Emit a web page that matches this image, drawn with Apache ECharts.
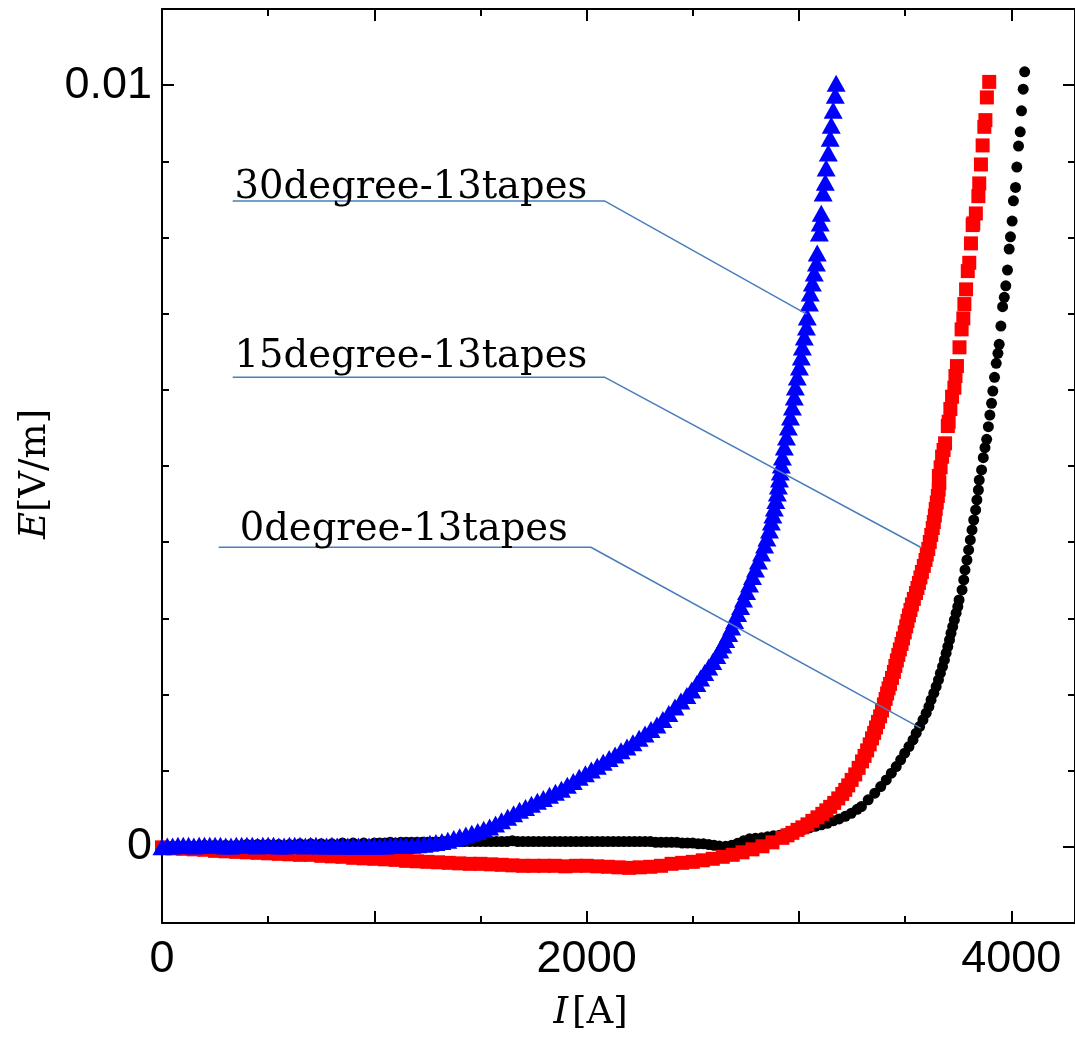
<!DOCTYPE html>
<html>
<head>
<meta charset="utf-8">
<script src="https://cdn.jsdelivr.net/npm/echarts@6/dist/echarts.min.js"></script>
<style>
  html, body { margin: 0; padding: 0; background: #fff; }
  #chart { width: 1075px; height: 1042px; }
</style>
</head>
<body>
<div id="chart"></div>
<script>
// E-I characteristics of 13-tape conductors at three winding angles.
// Current I in A, electric field E in V/m.

const deg0I = [
  0, 50, 100, 150, 200, 250, 300, 350, 400, 450, 500, 550, 600, 650, 700, 750, 800, 850, 900, 950,
  1000, 1025, 1050, 1075, 1100, 1125, 1150, 1175, 1200, 1225, 1250, 1275, 1300, 1325, 1350, 1375, 1400, 1425, 1450, 1475,
  1500, 1525, 1550, 1575, 1600, 1625, 1650, 1675, 1700, 1725, 1750, 1775, 1800, 1825, 1850, 1875, 1900, 1925, 1950, 1975,
  2000, 2025, 2050, 2075, 2100, 2125, 2150, 2175, 2200, 2225, 2250, 2275, 2300, 2325, 2350, 2375, 2400, 2425, 2450, 2475,
  2500, 2525, 2550, 2575, 2600, 2625,
  2655, 2683, 2711, 2739, 2767, 2795, 2824, 2852, 2880, 2908, 2936, 2964, 2992, 3021, 3049, 3077, 3105, 3133, 3161, 3189, 3218, 3246, 3274,
  3294, 3326, 3357, 3385, 3411, 3435, 3458, 3479, 3498, 3518, 3537, 3552, 3568, 3584, 3599, 3612, 3622, 3635, 3646, 3657,
  3666, 3676, 3685, 3693, 3701, 3709, 3716, 3724, 3732, 3740, 3748, 3754, 3768, 3776, 3782, 3791, 3799, 3807, 3815, 3823,
  3832, 3838, 3845, 3849,
  3860, 3868, 3876, 3884, 3892, 3899, 3907, 3913, 3921, 3929, 3937, 3943, 3951, 3959, 3967, 3974, 3982, 3990, 3996, 4004,
  4010, 4020, 4026, 4034, 4042, 4048, 4056, 4063
];
const deg0E = [
  0, 0.00001, 0.00001, 0.00001, 0.00002, 0.00002, 0.00002, 0.00002, 0.00003, 0.00003, 0.00003, 0.00003, 0.00003, 0.00004, 0.00004, 0.00004, 0.00004, 0.00005, 0.00005, 0.00005,
  0.00005, 0.00005, 0.00005, 0.00006, 0.00005, 0.00006, 0.00006, 0.00006, 0.00006, 0.00006, 0.00006, 0.00006, 0.00006, 0.00007, 0.00006, 0.00007, 0.00007, 0.00007, 0.00007, 0.00007,
  0.00007, 0.00007, 0.00007, 0.00007, 0.00007, 0.00007, 0.00008, 0.00007, 0.00007, 0.00007, 0.00007, 0.00007, 0.00007, 0.00007, 0.00007, 0.00007, 0.00007, 0.00007, 0.00007, 0.00007,
  0.00007, 0.00007, 0.00007, 0.00007, 0.00007, 0.00007, 0.00007, 0.00007, 0.00007, 0.00007, 0.00007, 0.00007, 0.00007, 0.00006, 0.00006, 0.00006, 0.00006, 0.00006, 0.00005, 0.00005,
  0.00005, 0.00004, 0.00004, 0.00003, 0.00002, 0.00001,
  0.000007, 0.00002, 0.000046, 0.000079, 0.000105, 0.000112, 0.000118, 0.000131, 0.000144, 0.000151, 0.000171, 0.00019, 0.00021, 0.00023, 0.000249, 0.000269, 0.000289, 0.000308, 0.000341, 0.000367, 0.0004, 0.00044, 0.000492,
  0.000529, 0.000617, 0.000705, 0.000791, 0.000879, 0.000967, 0.001054, 0.001142, 0.00123, 0.001316, 0.001404, 0.001492, 0.001579, 0.001667, 0.001755, 0.001841, 0.001929, 0.002017, 0.002104, 0.002192,
  0.00228, 0.002366, 0.002454, 0.002542, 0.002629, 0.002717, 0.002804, 0.002891, 0.002979, 0.003067, 0.003154, 0.003241, 0.003373, 0.003504, 0.003635, 0.003766, 0.003898, 0.004029, 0.00416, 0.004291,
  0.004423, 0.004554, 0.004685, 0.004816,
  0.004948, 0.005109, 0.00524, 0.00535, 0.005516, 0.005669, 0.005823, 0.005984, 0.006164, 0.006348, 0.006479, 0.006597, 0.006837, 0.007091, 0.007214, 0.007366, 0.007572, 0.007848, 0.008009, 0.008215,
  0.008482, 0.008657, 0.008924, 0.0092, 0.009387, 0.009663, 0.009948, 0.010175
];

const deg15I = [
  0, 50, 100, 150, 200, 250, 300, 350, 400, 450, 500, 550, 600, 650, 700, 750, 800, 850, 900, 950,
  1000, 1050, 1100, 1150, 1200, 1250, 1300, 1350, 1400, 1450, 1500, 1550, 1600, 1650, 1700, 1750, 1800, 1850, 1900, 1950,
  2000, 2050, 2100, 2150, 2200, 2250, 2300, 2350, 2400, 2450, 2500,
  2547, 2594, 2641, 2688, 2734, 2781, 2828, 2875,
  2922, 2946, 2969, 2993, 3016, 3040, 3063, 3087, 3110, 3129,
  3147, 3166, 3185, 3204, 3218, 3232, 3248, 3265, 3281, 3297,
  3309, 3321, 3333, 3344, 3354, 3363, 3372, 3382, 3391, 3400,
  3408, 3415, 3422, 3429, 3438, 3447, 3454, 3461, 3468, 3475,
  3483, 3490, 3498, 3505, 3511, 3518, 3525, 3532, 3541, 3551,
  3558, 3565, 3572, 3579, 3588, 3596, 3602, 3609, 3616, 3623,
  3630, 3635, 3640, 3644, 3649, 3654, 3658, 3661,
  3659, 3667, 3674, 3681, 3688, 3701, 3705, 3713, 3721, 3732, 3737, 3744, 3756, 3766, 3774, 3779, 3787, 3795, 3802, 3810,
  3818, 3821, 3833, 3845, 3849, 3857, 3865, 3873, 3878, 3885, 3896
];
const deg15E = [
  -0.000007, -0.00002, -0.000026, -0.000033, -0.000039, -0.000053, -0.000059, -0.000066, -0.000072, -0.000079,
  -0.000085, -0.000092, -0.000098, -0.000105, -0.000105, -0.000118, -0.000125, -0.000131, -0.000144, -0.000151,
  -0.000157, -0.000164, -0.000171, -0.000184, -0.00019, -0.000197, -0.000203, -0.00021, -0.000217, -0.000223,
  -0.000223, -0.00023, -0.000236, -0.000243, -0.000249, -0.000249, -0.000249, -0.000249, -0.000256, -0.000249,
  -0.000249, -0.000256, -0.000262, -0.000269, -0.000276, -0.000269, -0.000262, -0.000249, -0.000223, -0.00021,
  -0.000197,
  -0.000177, -0.000157, -0.000131, -0.000105, -0.000072, -0.000033, 0.000007, 0.000059,
  0.000118, 0.000151, 0.000184, 0.000223, 0.000256, 0.000295, 0.000341, 0.000387, 0.000433, 0.000479,
  0.000525, 0.000577, 0.000636, 0.000695, 0.000748, 0.000807, 0.000879, 0.000951, 0.001037, 0.001122,
  0.001194, 0.001266, 0.001345, 0.001424, 0.001496, 0.001568, 0.00164, 0.001713, 0.001791, 0.00187,
  0.001942, 0.002014, 0.00208, 0.002139, 0.002218, 0.002297, 0.002375, 0.002447, 0.00252, 0.002592,
  0.002664, 0.002736, 0.002815, 0.002894, 0.002966, 0.003038, 0.00311, 0.003182, 0.003255, 0.003333,
  0.003399, 0.003465, 0.003537, 0.003609, 0.003688, 0.003766, 0.003839, 0.003911, 0.004003, 0.004095,
  0.004186, 0.004265, 0.00435, 0.004436, 0.004521, 0.004606, 0.004691, 0.004777,
  0.004869, 0.004983, 0.005122, 0.00521, 0.005298, 0.005525, 0.005581, 0.005748, 0.00591, 0.006028, 0.006181, 0.006312, 0.006558, 0.006794, 0.006938, 0.007126, 0.007319, 0.007559, 0.007668, 0.007923,
  0.008163, 0.008185, 0.008316, 0.008543, 0.00871, 0.008959, 0.009209, 0.009453, 0.009541, 0.009839, 0.010043
];

const deg30I = [
  0, 25, 50, 75, 100, 125, 150, 175, 200, 225, 250, 275, 300, 325, 350, 375, 400, 425, 450, 475,
  500, 525, 550, 575, 600, 625, 650, 675, 700, 725, 750, 775, 800, 825, 850, 875, 900, 925, 950, 975,
  1000, 1025, 1050, 1075, 1100, 1125,
  1149, 1177, 1205, 1234, 1262, 1290, 1318, 1346, 1374, 1402,
  1431, 1459, 1487, 1515, 1543, 1571, 1599, 1628, 1656, 1684,
  1712, 1740, 1768, 1796, 1825,
  1853, 1881, 1909, 1937, 1965, 1994, 2022, 2050, 2078, 2106,
  2134, 2162, 2190, 2218, 2247, 2275, 2303, 2331,
  2359, 2387, 2416, 2444, 2472, 2495, 2519, 2537, 2556, 2575,
  2594, 2613, 2627, 2641, 2655, 2669, 2683, 2697, 2711, 2725,
  2739, 2753, 2767, 2781, 2795, 2809, 2824, 2838, 2849, 2861,
  2870, 2877, 2884, 2891, 2898, 2903, 2908, 2912, 2917,
  2922, 2931, 2941, 2950, 2960, 2969, 2978, 2983, 2992, 3002, 3011, 3016, 3025, 3035, 3039, 3049, 3053, 3063, 3072, 3082,
  3086, 3096, 3100, 3105, 3114, 3124, 3128, 3138, 3147, 3152, 3161, 3171, 3175
];
const deg30E = [
  0, 0.00001, 0.00001, 0.00002, 0.00002, 0.00002, 0.00001, 0.00002, 0.00002, 0.00002,
  0.00002, 0.00002, 0.00001, 0.00001, 0.00002, 0.00002, 0.00002, 0.00002, 0.00001, 0.00002,
  0.00002, 0.00002, 0.00001, 0.00001, 0.00002, 0.00002, 0.00002, 0.00001, 0.00002, 0.00002,
  0.00001, 0.00001, 0.00002, 0.00001, 0.00001, 0.00001, 0.00001, 0.00001, 0.00001, 0.00001,
  0.00001, 0.00001, 0.00001, 0.00002, 0.00002, 0.00002,
  0.000016, 0.000021, 0.000026, 0.000035, 0.000046, 0.000058, 0.000071, 0.000087, 0.000108, 0.000131,
  0.000155, 0.000178, 0.000202, 0.000231, 0.000262, 0.000299, 0.000341, 0.000387, 0.000433, 0.000479,
  0.000518, 0.000558, 0.000597, 0.000636, 0.000676,
  0.000715, 0.000757, 0.000807, 0.000857, 0.000912, 0.000961, 0.00101, 0.001059, 0.001109, 0.001161,
  0.001207, 0.00126, 0.001312, 0.001365, 0.001424, 0.001483, 0.001542, 0.001601,
  0.001673, 0.001752, 0.001837, 0.001916, 0.001988, 0.00206, 0.002146, 0.002218, 0.00229, 0.002362,
  0.002434, 0.002513, 0.002585, 0.002651, 0.002723, 0.002802, 0.002887, 0.002972, 0.003064, 0.003156,
  0.003254, 0.003353, 0.003451, 0.00355, 0.003648, 0.003753, 0.003858, 0.003963, 0.004055, 0.00416,
  0.004265, 0.004357, 0.004449, 0.004547, 0.004646, 0.004738, 0.004829, 0.004921, 0.005013,
  0.005118, 0.005249, 0.005381, 0.005512, 0.005643, 0.005774, 0.005906, 0.006037, 0.006168, 0.006299, 0.00643, 0.006562, 0.006693, 0.006824, 0.006955, 0.007139, 0.00727, 0.007402, 0.007533, 0.007664,
  0.007795, 0.008058, 0.008189, 0.00832, 0.008583, 0.008727, 0.008911, 0.009108, 0.009304, 0.009475, 0.009672, 0.009869, 0.010026
];

// Series names and their callout text anchors / leader polylines (data coordinates)
const seriesNames = ['0degree-13tapes', '15degree-13tapes', '30degree-13tapes'];
const calloutTextI = [366, 342, 342];
const calloutTextE = [0.004154, 0.00643, 0.008655];
const leader0I = [267, 2020, 3573];
const leader0E = [0.003933, 0.003933, 0.001558];
const leader15I = [333, 2086, 3573];
const leader15E = [0.006164, 0.006164, 0.003933];
const leader30I = [333, 2086, 3036];
const leader30E = [0.008478, 0.008478, 0.006995];

// Axis ticks and labels
const xMajorTicks = [0, 1000, 2000, 3000, 4000];
const xTickLabels = [0, 2000, 4000];
const yMajorTicks = [0, 0.01];
const yTickLabels = [0, 0.01];

const pairs = (xs, ys) => xs.map((x, i) => [x, ys[i]]);

const X_MIN = 0, X_MAX = 4300, Y_MIN = -0.001, Y_MAX = 0.011;
const tickFont = 'Liberation Sans, Arial, sans-serif';
const serifFont = 'DejaVu Serif, serif';

function xAxisDef(pos, major, withLabels) {
  return {
    type: 'value', position: pos, min: X_MIN, max: X_MAX,
    interval: major ? 1000 : 500,
    axisLine: { show: major, onZero: false, lineStyle: { color: '#000', width: 2 } },
    axisTick: major
      ? { show: true, inside: true, length: 12, customValues: xMajorTicks, lineStyle: { color: '#000', width: 2 } }
      : { show: true, inside: true, length: 7, lineStyle: { color: '#000', width: 2 } },
    axisLabel: withLabels
      ? { show: true, customValues: xTickLabels, margin: 14, color: '#000', fontSize: 45, fontFamily: tickFont,
          formatter: v => String(Math.round(v)) }
      : { show: false },
    splitLine: { show: false }
  };
}
function yAxisDef(pos, major, withLabels) {
  return {
    type: 'value', position: pos, min: Y_MIN, max: Y_MAX,
    interval: 0.001,
    axisLine: { show: major, onZero: false, lineStyle: { color: '#000', width: 2 } },
    axisTick: major
      ? { show: true, inside: true, length: 12, customValues: yMajorTicks, lineStyle: { color: '#000', width: 2 } }
      : { show: true, inside: true, length: 7, lineStyle: { color: '#000', width: 2 } },
    axisLabel: withLabels
      ? { show: true, customValues: yTickLabels, margin: 10, color: '#000', fontSize: 45, fontFamily: tickFont,
          formatter: v => (Math.abs(v) < 1e-12 ? '0' : String(+v.toFixed(6))) }
      : { show: false },
    splitLine: { show: false }
  };
}

const xMain = xAxisDef('bottom', true, true);
xMain.name = '{it|I}{n|[A]}';
xMain.nameLocation = 'middle';
xMain.nameGap = 72;
xMain.nameTextStyle = {
  padding: [0, 56, 0, 0],
  rich: {
    it: { fontFamily: serifFont, fontStyle: 'italic', fontSize: 37, color: '#000', padding: [0, 4, 0, 0] },
    n: { fontFamily: serifFont, fontSize: 37, color: '#000' }
  }
};

const yMain = yAxisDef('left', true, true);
yMain.name = '{it|E}{n|[V/m]}';
yMain.nameLocation = 'middle';
yMain.nameRotate = 90;
yMain.nameGap = 106;
yMain.nameTextStyle = {
  padding: [0, 16, 0, 0],
  rich: {
    it: { fontFamily: serifFont, fontStyle: 'italic', fontSize: 37, color: '#000' },
    n: { fontFamily: serifFont, fontSize: 37, color: '#000' }
  }
};

const leaderStyle = { color: '#4a7ebb', width: 1.5 };
function leader(xs, ys) {
  return {
    type: 'line', data: pairs(xs, ys), symbol: 'none', silent: true, z: 6,
    lineStyle: leaderStyle, xAxisIndex: 0, yAxisIndex: 0
  };
}

const chart = echarts.init(document.getElementById('chart'), null, { renderer: 'canvas' });
chart.setOption({
  animation: false,
  backgroundColor: '#fff',
  grid: { left: 162, right: -3, top: 9, bottom: 119, containLabel: false },
  xAxis: [xMain, xAxisDef('bottom', false, false), xAxisDef('top', true, false), xAxisDef('top', false, false)],
  yAxis: [yMain, yAxisDef('left', false, false), yAxisDef('right', true, false), yAxisDef('right', false, false)],
  series: [
    {
      name: seriesNames[0], type: 'scatter', data: pairs(deg0I, deg0E),
      symbol: 'circle', symbolSize: 11, itemStyle: { color: '#000000', opacity: 1 }, z: 2
    },
    {
      name: seriesNames[1], type: 'scatter', data: pairs(deg15I, deg15E),
      symbol: 'rect', symbolSize: 14, itemStyle: { color: '#ff0000', opacity: 1 }, z: 3
    },
    {
      name: seriesNames[2], type: 'scatter', data: pairs(deg30I, deg30E),
      symbol: 'triangle', symbolSize: [19, 17], itemStyle: { color: '#0000ff', opacity: 1 }, z: 4
    },
    leader(leader0I, leader0E),
    leader(leader15I, leader15E),
    leader(leader30I, leader30E),
    {
      type: 'scatter', silent: true, z: 7, symbolSize: 0,
      itemStyle: { opacity: 1 },
      data: seriesNames.map((n, i) => ({ name: n, value: [calloutTextI[i], calloutTextE[i]] })),
      label: {
        show: true, formatter: p => p.name, position: [0, 0],
        align: 'left', verticalAlign: 'middle',
        fontFamily: serifFont, fontSize: 38.5, color: '#000', opacity: 1
      }
    }
  ]
});
</script>
</body>
</html>
